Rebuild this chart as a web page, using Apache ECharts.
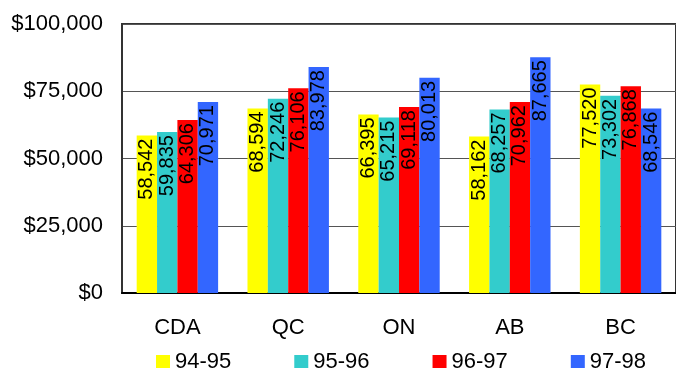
<!DOCTYPE html>
<html><head><meta charset="utf-8">
<script src="https://cdn.jsdelivr.net/npm/echarts@6/dist/echarts.min.js"></script>
<style>html,body{margin:0;padding:0;background:#fff}#c{width:676px;height:368px}</style>
</head><body><div id="c"></div>
<script>
const categories = ['CDA', 'QC', 'ON', 'AB', 'BC'];
const seriesNames = ['94-95', '95-96', '96-97', '97-98'];
const s9495 = [58542, 68594, 66395, 58162, 77520];
const s9596 = [59835, 72246, 65215, 68257, 73302];
const s9697 = [64306, 76106, 69118, 70962, 76868];
const s9798 = [70971, 83978, 80013, 87665, 68546];
const colors = ['#FFFF00', '#33CCCC', '#FF0000', '#3366FF'];
const yTicks = [0, 25000, 50000, 75000, 100000];

const FONT = '"Liberation Sans", Arial, sans-serif';
const fmt = v => v.toString().replace(/\B(?=(\d{3})+(?!\d))/g, ',');
const allData = [s9495, s9596, s9697, s9798];

const chart = echarts.init(document.getElementById('c'), null, {renderer: 'canvas'});
chart.setOption({
  animation: false,
  backgroundColor: '#fff',
  textStyle: {fontFamily: FONT},
  grid: {left: 122, top: 24, width: 565, height: 269, show: true, borderColor: '#333', borderWidth: 2, backgroundColor: 'transparent'},
  legend: {
    data: seriesNames, left: 151, top: 346, itemWidth: 14, itemHeight: 14, itemGap: 63,
    icon: 'rect', textStyle: {fontSize: 22, color: '#000', fontFamily: FONT, padding: [0, 0, 0, 0]},
    selectedMode: false
  },
  xAxis: {
    type: 'category', data: categories,
    axisLine: {show: true, lineStyle: {color: '#000', width: 2}},
    axisTick: {show: false},
    axisLabel: {fontSize: 22, color: '#000', margin: 24, fontFamily: FONT}
  },
  yAxis: {
    type: 'value', min: yTicks[0], max: yTicks[yTicks.length - 1], interval: 25000,
    axisLine: {show: true, lineStyle: {color: '#333', width: 2}},
    axisTick: {show: false},
    splitLine: {lineStyle: {color: '#555', width: 1}},
    axisLabel: {fontSize: 22, color: '#000', margin: 19, fontFamily: FONT, formatter: v => '$' + fmt(v)}
  },
  series: seriesNames.map((n, i) => ({
    name: n, type: 'bar', data: allData[i],
    barGap: '0%', barCategoryGap: '26.5%',
    itemStyle: {color: colors[i]},
    label: {
      show: true, position: 'insideTop', rotate: 90, align: 'right', verticalAlign: 'middle',
      distance: 3, fontSize: 20, color: '#000', fontFamily: FONT,
      formatter: p => fmt(p.value)
    }
  }))
});
</script></body></html>
